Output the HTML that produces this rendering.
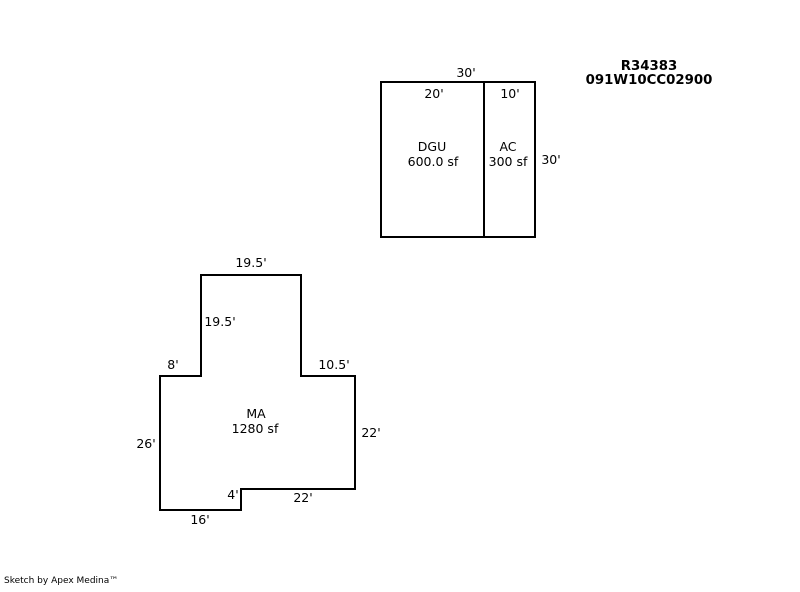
<!DOCTYPE html>
<html><head><style>
body{margin:0;background:#fff;}
svg text{font-family:"DejaVu Sans","Liberation Sans",sans-serif;font-size:12.5px;fill:#000;}
</style></head><body>
<svg width="800" height="587" viewBox="0 0 800 587" xmlns="http://www.w3.org/2000/svg">
<g fill="none" stroke="#000" stroke-width="2">
<rect x="381" y="82" width="154" height="155"/>
<line x1="484" y1="82" x2="484" y2="237"/>
<polygon points="160,376 201,376 201,275 301,275 301,376 355,376 355,489 241,489 241,510 160,510"/>
</g>
<g text-anchor="middle">
<text x="466" y="77">30'</text>
<text x="434" y="98">20'</text>
<text x="510" y="98">10'</text>
<text x="432" y="151">DGU</text>
<text x="433" y="166">600.0 sf</text>
<text x="508" y="151">AC</text>
<text x="508" y="166">300 sf</text>
<text x="551" y="164">30'</text>
<text x="649" y="70" style="font-weight:bold;font-size:13.3px">R34383</text>
<text x="649" y="84" style="font-weight:bold;font-size:13.3px">091W10CC02900</text>
<text x="251" y="267">19.5'</text>
<text x="220" y="326">19.5'</text>
<text x="173" y="369">8'</text>
<text x="334" y="369">10.5'</text>
<text x="256" y="418">MA</text>
<text x="255" y="433">1280 sf</text>
<text x="146" y="448">26'</text>
<text x="371" y="437">22'</text>
<text x="233" y="499">4'</text>
<text x="303" y="502">22'</text>
<text x="200" y="524">16'</text>
</g>
<text x="4" y="583" style="font-size:9px">Sketch by Apex Medina™</text>
</svg>
</body></html>
